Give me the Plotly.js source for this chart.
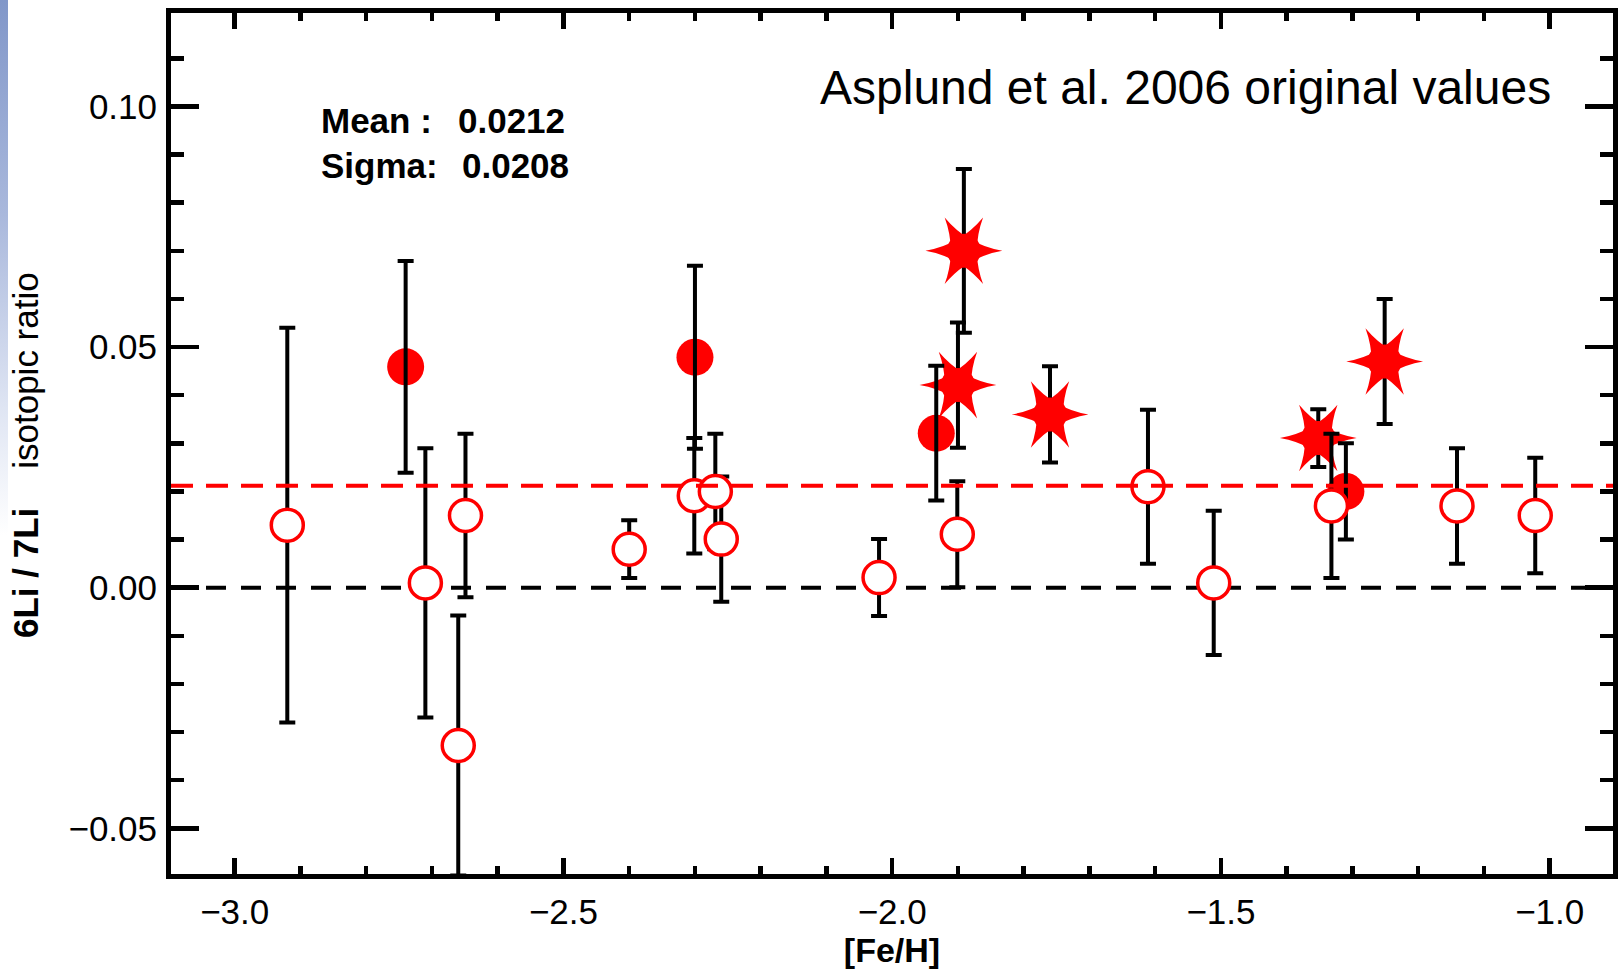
<!DOCTYPE html>
<html>
<head>
<meta charset="utf-8">
<script src="https://cdn.plot.ly/plotly-3.0.1.min.js"></script>
<style>
html, body { margin: 0; padding: 0; background: #ffffff; }
#wrap {
  position: relative; width: 1621px; height: 973px;
  background: linear-gradient(to bottom, #8197c9 0%, #a9b8dc 22%, #dfe5f3 42%, #ffffff 55%) no-repeat 0 0 / 8px 100%, #ffffff;
}
#chart { width: 1621px; height: 973px; }
</style>
</head>
<body>
<div id="wrap"><div id="chart"></div></div>
<script>
// ---- data ----
// open circles
const openFeH   = [-2.920, -2.710, -2.649, -2.660, -2.400, -2.301, -2.269, -2.260, -2.020, -1.901, -1.611, -1.511, -1.332, -1.141, -1.022];
const openRatio = [0.0130, 0.0010, 0.0150, -0.0328, 0.0080, 0.0191, 0.0200, 0.0101, 0.0021, 0.0111, 0.0210, 0.0010, 0.0170, 0.0170, 0.0150];
const openErr   = [0.041, 0.028, 0.017, 0.027, 0.006, 0.012, 0.012, 0.013, 0.008, 0.011, 0.016, 0.015, 0.015, 0.012, 0.012];
// filled circles
const filledFeH   = [-2.740, -2.300, -1.933, -1.310];
const filledRatio = [0.0459, 0.0479, 0.0321, 0.0200];
const filledErr   = [0.022, 0.019, 0.014, 0.010];
// stars
const starFeH   = [-1.891, -1.900, -1.760, -1.352, -1.251];
const starRatio = [0.0700, 0.0421, 0.0360, 0.0311, 0.0470];
const starErr   = [0.017, 0.013, 0.010, 0.006, 0.013];
// statistics
const meanValue  = 0.0212;
const sigmaValue = 0.0208;
const zeroLevel  = 0.0;
// texts
const titleText  = 'Asplund et al. 2006 original values';
const xTitleText = '[Fe/H]';
const yTitleBold = '6Li / 7Li';
const yTitleRest = 'isotopic ratio';
const xTickVals  = [-3.0, -2.5, -2.0, -1.5, -1.0];
const yTickVals  = [-0.05, 0.00, 0.05, 0.10];

// ---- layout ----
const W = 1621, H = 973;
const M = { l: 171, r: 8, t: 13, b: 99 };
const PW = W - M.l - M.r, PH = H - M.t - M.b;
const px2x = p => (p - M.l) / PW;
const px2y = p => 1 - (p - M.t) / PH;
const FONT = 'Liberation Sans, Arial, Helvetica, sans-serif';
const RED = '#ff0000';

const errStyle = (arr) => ({ type: 'data', array: arr, visible: true, color: '#000000', thickness: 4, width: 8 });

const traces = [
  { // filled circles
    x: filledFeH, y: filledRatio, type: 'scatter', mode: 'markers', hoverinfo: 'skip', showlegend: false,
    marker: { symbol: 'circle', size: 37, color: RED, line: { width: 0 } }
  },
  { // stars: error bars + core
    x: starFeH, y: starRatio, type: 'scatter', mode: 'markers', hoverinfo: 'skip', showlegend: false,
    error_y: errStyle(starErr),
    marker: { symbol: 'circle', size: 34, color: RED, line: { width: 0 } }
  },
  { // star spikes
    x: starFeH, y: starRatio, type: 'scatter', mode: 'markers', hoverinfo: 'skip', showlegend: false,
    marker: { symbol: 'star-triangle-up', size: 48, angle: 90, color: RED, line: { width: 0 } }
  },
  {
    x: starFeH, y: starRatio, type: 'scatter', mode: 'markers', hoverinfo: 'skip', showlegend: false,
    marker: { symbol: 'star-triangle-down', size: 48, angle: 90, color: RED, line: { width: 0 } }
  },
  { // error bars of filled circles, drawn over them
    x: filledFeH, y: filledRatio, type: 'scatter', mode: 'markers', hoverinfo: 'skip', showlegend: false,
    error_y: errStyle(filledErr),
    marker: { size: 1, color: 'rgba(0,0,0,0)' }
  },
  { // open circles
    x: openFeH, y: openRatio, type: 'scatter', mode: 'markers', hoverinfo: 'skip', showlegend: false,
    error_y: errStyle(openErr),
    marker: { symbol: 'circle', size: 32, color: '#ffffff', line: { width: 3.5, color: RED } }
  }
];

const axisCommon = {
  showline: true, linewidth: 5, linecolor: '#000000', mirror: 'ticks',
  ticks: 'inside', tickwidth: 4.5, tickcolor: '#000000',
  showgrid: false, zeroline: false,
  tickfont: { family: FONT, size: 35, color: '#000000' }
};

const layout = {
  width: W, height: H,
  margin: M,
  paper_bgcolor: 'rgba(0,0,0,0)',
  plot_bgcolor: '#ffffff',
  showlegend: false,
  font: { family: FONT, color: '#000000' },
  xaxis: Object.assign({}, axisCommon, {
    range: [-3.09687, -0.90374],
    tickvals: xTickVals, tickformat: '.1f', ticklen: 16,
    minor: { dtick: 0.1, tick0: -3.0, ticks: 'inside', ticklen: 8, tickwidth: 4.5, tickcolor: '#000000', showgrid: false },
    ticklabelstandoff: 3,
    title: { text: '<b>' + xTitleText + '</b>', font: { family: FONT, size: 34, color: '#000000' }, standoff: 4 }
  }),
  yaxis: Object.assign({}, axisCommon, {
    range: [-0.059497, 0.119431],
    tickvals: yTickVals, tickformat: '.2f', ticklen: 28,
    minor: { dtick: 0.01, tick0: 0, ticks: 'inside', ticklen: 13, tickwidth: 4.5, tickcolor: '#000000', showgrid: false },
    ticklabelstandoff: 2
  }),
  shapes: [
    { type: 'line', xref: 'paper', yref: 'y', x0: 0, x1: 1, y0: zeroLevel, y1: zeroLevel, layer: 'below',
      line: { color: '#000000', width: 4, dash: '20px,15px' } },
    { type: 'line', xref: 'paper', yref: 'y', x0: 0, x1: 1, y0: meanValue, y1: meanValue, layer: 'above',
      line: { color: RED, width: 4, dash: '22px,13px' } }
  ],
  annotations: [
    { // y-axis title
      text: '<b>' + yTitleBold + '</b>\u00a0\u00a0\u00a0 ' + yTitleRest, textangle: -90,
      xref: 'paper', yref: 'paper', x: px2x(25), y: px2y(455), xanchor: 'center', yanchor: 'middle',
      showarrow: false, font: { family: FONT, size: 35, color: '#000000' } },
    { text: titleText, xref: 'paper', yref: 'paper', x: px2x(1185.5), y: px2y(87.5), xanchor: 'center', yanchor: 'middle',
      showarrow: false, font: { family: FONT, size: 48, color: '#000000' } },
    { text: '<b>Mean :</b>', xref: 'paper', yref: 'paper', x: px2x(319), y: px2y(121), xanchor: 'left', yanchor: 'middle',
      showarrow: false, font: { family: FONT, size: 35, color: '#000000' } },
    { text: '<b>' + meanValue.toFixed(4) + '</b>', xref: 'paper', yref: 'paper', x: px2x(456), y: px2y(121), xanchor: 'left', yanchor: 'middle',
      showarrow: false, font: { family: FONT, size: 35, color: '#000000' } },
    { text: '<b>Sigma:</b>', xref: 'paper', yref: 'paper', x: px2x(319), y: px2y(166), xanchor: 'left', yanchor: 'middle',
      showarrow: false, font: { family: FONT, size: 35, color: '#000000' } },
    { text: '<b>' + sigmaValue.toFixed(4) + '</b>', xref: 'paper', yref: 'paper', x: px2x(460), y: px2y(166), xanchor: 'left', yanchor: 'middle',
      showarrow: false, font: { family: FONT, size: 35, color: '#000000' } }
  ]
};

Plotly.newPlot('chart', traces, layout, { displayModeBar: false, staticPlot: true });
</script>
</body>
</html>
